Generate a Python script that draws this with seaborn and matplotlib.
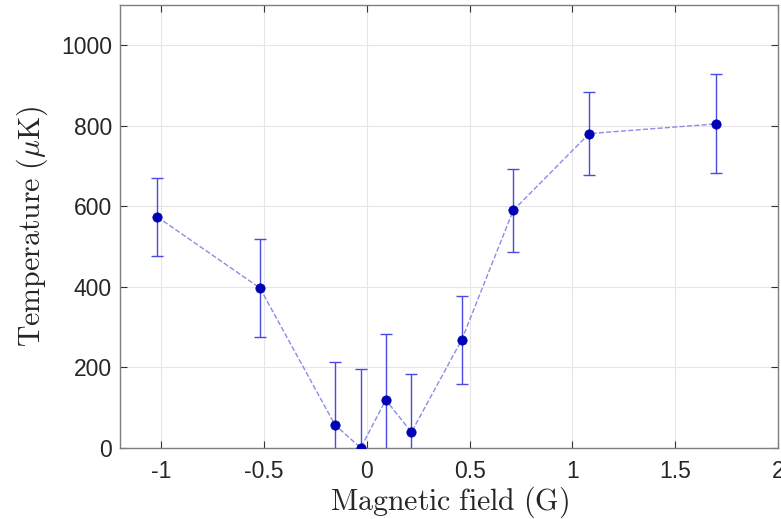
import seaborn as sns
import matplotlib.pyplot as plt
import matplotlib.ticker as mticker
import pandas as pd

# data
field = [-1.02, -0.52, -0.155, -0.03, 0.092, 0.217, 0.462, 0.712, 1.082, 1.698]
temperature = [574, 397, 57, 0, 119, 39, 269, 590, 781, 805]
temp_err = [96, 122, 156, 195, 163, 145, 109, 103, 104, 123]

df = pd.DataFrame({"field": field, "temp": temperature, "err": temp_err})

sns.set_style("whitegrid")
plt.rcParams['font.family'] = ['Liberation Sans', 'DejaVu Sans']
plt.rcParams['mathtext.fontset'] = 'cm'
plt.rcParams['axes.unicode_minus'] = False

fig = plt.figure(figsize=(7.81, 5.19), dpi=100)
ax = fig.add_axes([0.154, 0.137, 0.842, 0.853])

ax.errorbar(df["field"], df["temp"], yerr=df["err"], fmt='none',
            ecolor='#4a4ae0', elinewidth=1.0, capsize=4, capthick=1.0, zorder=2)
sns.lineplot(data=df, x="field", y="temp", ax=ax, color='#8c8ce6',
             linestyle='--', linewidth=1.0, zorder=3)
sns.scatterplot(data=df, x="field", y="temp", ax=ax, color='#0000b4',
                s=45, edgecolor='#0000b4', zorder=4)

ax.set_xlim(-1.2, 2)
ax.set_ylim(0, 1100)
ax.set_xticks([-1, -0.5, 0, 0.5, 1, 1.5, 2])
ax.set_yticks([0, 200, 400, 600, 800, 1000])
ax.xaxis.set_major_formatter(mticker.FormatStrFormatter('%g'))

ax.grid(True, color='#e6e6e6', linewidth=0.8)
for s in ax.spines.values():
    s.set_visible(True)
    s.set_color('#7f7f7f')
    s.set_linewidth(1.0)

ax.tick_params(axis='both', which='both', direction='in', length=5, width=0.8,
               color='#333333', labelsize=16.5, labelcolor='#262626',
               top=True, right=True, bottom=True, left=True)
ax.tick_params(axis='x', pad=9)
ax.tick_params(axis='y', pad=6)

ax.set_xlabel(r'$\mathrm{Magnetic\ field\ (G)}$', fontsize=21.5, color='#262626', labelpad=1)
ax.set_ylabel(r'$\mathrm{Temperature\ (}\mu\mathrm{K)}$', fontsize=21.5, color='#262626', labelpad=8)

fig.savefig("out.png", dpi=100)
